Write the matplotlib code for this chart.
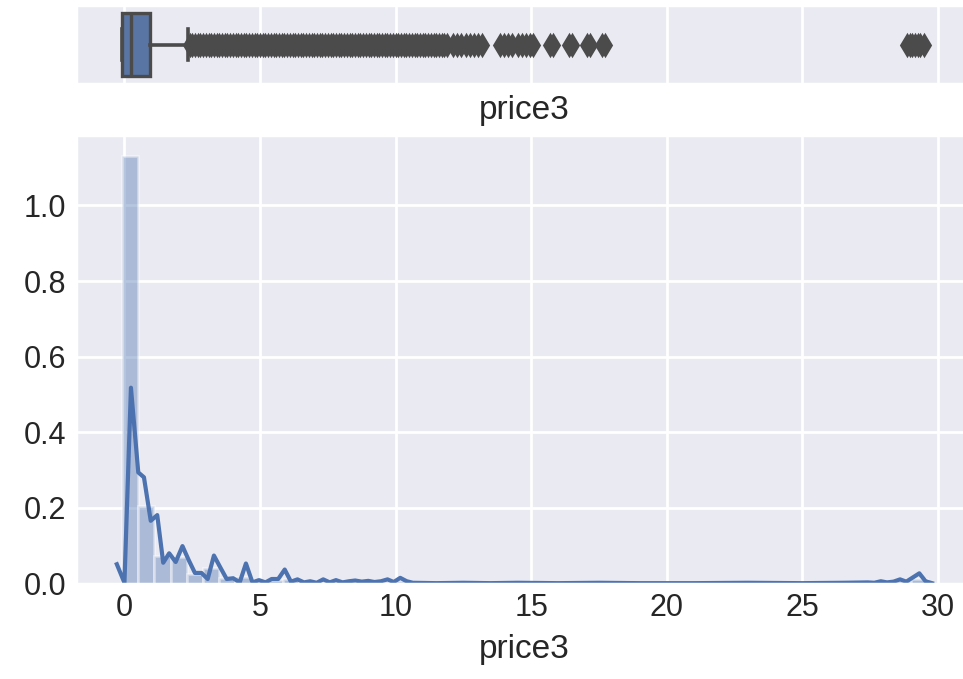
import matplotlib

matplotlib.use("Agg")
import matplotlib.pyplot as plt
import numpy as np

BLUE = "#4C72B0"
BOX_FACE = "#5975A4"
LINE_GRAY = "#4b4b4b"
TEXT_GRAY = "#262626"

# box summary for price3
box_q1 = -0.08
box_med = 0.25
box_q3 = 0.93
whisker_lo = -0.08
whisker_hi = 2.36
fliers = [
    2.42, 2.5, 2.6, 2.7, 2.8, 2.9, 3.0, 3.1, 3.2, 3.3, 3.4, 3.5, 3.6, 3.7,
    3.8, 3.9, 4.0, 4.1, 4.2, 4.3, 4.4, 4.5, 4.6, 4.7, 4.8, 4.9, 5.0, 5.1,
    5.2, 5.3, 5.4, 5.5, 5.6, 5.7, 5.8, 5.9, 6.0, 6.1, 6.2, 6.3, 6.4, 6.5,
    6.6, 6.7, 6.8, 6.9, 7.0, 7.1, 7.2, 7.3, 7.4, 7.5, 7.6, 7.7, 7.8, 7.9,
    8.0, 8.1, 8.2, 8.3, 8.4, 8.5, 8.6, 8.7, 8.8, 8.9, 9.0, 9.1, 9.2, 9.3,
    9.4, 9.5, 9.6, 9.7, 9.8, 9.9, 10.0, 10.1, 10.2, 10.3, 10.4, 10.5, 10.6,
    10.7, 10.8, 10.9, 11.0, 11.1, 11.2, 11.3, 11.4, 11.5, 11.6, 11.7, 11.8,
    11.9,
    12.1, 12.25, 12.4, 12.6, 12.75, 12.9, 13.05, 13.2,
    13.85, 14.0, 14.15, 14.3, 14.5, 14.65, 14.8, 14.95, 15.05,
    15.7, 15.82, 16.38, 16.5, 17.05, 17.17, 17.6, 17.72,
    28.85, 28.95, 29.05, 29.15, 29.25, 29.35, 29.5,
]

# histogram (density) of price3, 50 equal bins
hist_start = -0.08
hist_stop = 29.58
hist_heights = [
    1.13, 0.206, 0.073, 0.071, 0.026, 0.042, 0.014, 0.018, 0.006, 0.010,
    0.012, 0.004, 0.005, 0.005, 0.004, 0.005, 0.005, 0.007, 0.002, 0.002,
    0.001, 0.002, 0.001, 0.001, 0.002, 0.001, 0.001, 0.001, 0.002, 0.001,
    0.001, 0.001, 0.001, 0.002, 0.001, 0.001, 0.001, 0.001, 0.001, 0.002,
    0.001, 0.001, 0.001, 0.001, 0.002, 0.002, 0.002, 0.004, 0.008, 0.013,
]

# kernel density estimate of price3
kde_x = [
    -0.28, 0.00, 0.24, 0.51, 0.72, 0.97, 1.21, 1.43, 1.65, 1.89, 2.14, 2.37,
    2.60, 2.84, 3.07, 3.30, 3.54, 3.77, 4.01, 4.25, 4.48, 4.72, 4.96, 5.20,
    5.43, 5.67, 5.91, 6.14, 6.38, 6.62, 6.85, 7.09, 7.33, 7.57, 7.80, 8.04,
    8.28, 8.51, 8.75, 8.99, 9.22, 9.46, 9.70, 9.93, 10.17, 10.41, 10.64,
    11.5, 12.5, 13.5, 14.5, 16.0, 17.5, 19.0, 21.0, 23.0, 25.0, 26.5,
    27.41, 27.65, 27.89, 28.12, 28.36, 28.60, 28.83, 29.07, 29.31, 29.54,
    29.78,
]
kde_y = [
    0.051, 0.002, 0.518, 0.294, 0.281, 0.166, 0.181, 0.055, 0.080, 0.057,
    0.099, 0.062, 0.028, 0.028, 0.012, 0.074, 0.042, 0.012, 0.014, 0.003,
    0.053, 0.003, 0.009, 0.003, 0.012, 0.012, 0.037, 0.005, 0.011, 0.003,
    0.006, 0.002, 0.011, 0.003, 0.009, 0.003, 0.006, 0.008, 0.005, 0.007,
    0.004, 0.006, 0.011, 0.004, 0.015, 0.006, 0.002,
    0.001, 0.002, 0.001, 0.002, 0.001, 0.002, 0.001, 0.001, 0.002, 0.001,
    0.002,
    0.003, 0.002, 0.006, 0.003, 0.005, 0.011, 0.005, 0.016, 0.027, 0.006,
    0.001,
]

plt.rcParams.update({
    "font.family": ["Liberation Sans", "DejaVu Sans"],
    "axes.facecolor": "#EAEAF2",
    "axes.edgecolor": "white",
    "axes.linewidth": 1.25,
    "axes.grid": True,
    "axes.axisbelow": True,
    "grid.color": "white",
    "grid.linewidth": 1.0,
    "axes.labelsize": 12,
    "axes.labelcolor": TEXT_GRAY,
    "xtick.labelsize": 11,
    "ytick.labelsize": 11,
    "xtick.color": TEXT_GRAY,
    "ytick.color": TEXT_GRAY,
    "xtick.major.size": 0,
    "ytick.major.size": 0,
    "xtick.major.pad": 3.5,
    "ytick.major.pad": 3.5,
})

fig = plt.figure(figsize=(4.815, 3.395), dpi=200)
ax_hist = fig.add_axes([0.079, 0.1406, 0.9312, 0.6606])
ax_box = fig.add_axes([0.079, 0.8763, 0.9312, 0.1163], sharex=ax_hist)

stats = [{
    "med": box_med, "q1": box_q1, "q3": box_q3,
    "whislo": whisker_lo, "whishi": whisker_hi, "fliers": fliers,
}]
ax_box.bxp(
    stats, positions=[0], widths=0.8, orientation="horizontal",
    patch_artist=True, manage_ticks=False,
    boxprops=dict(facecolor=BOX_FACE, edgecolor=LINE_GRAY, linewidth=1.2),
    whiskerprops=dict(color=LINE_GRAY, linewidth=1.3),
    capprops=dict(color=LINE_GRAY, linewidth=1.3),
    medianprops=dict(color=LINE_GRAY, linewidth=1.2),
    flierprops=dict(marker="d", markersize=5.3, markerfacecolor=LINE_GRAY,
                    markeredgecolor=LINE_GRAY, markeredgewidth=1.0,
                    linestyle="none"),
)
ax_box.set_ylim(0.5, -0.5)
ax_box.set_yticks([])
ax_box.tick_params(labelbottom=False)
ax_box.set_xlabel("price3")

edges = np.linspace(hist_start, hist_stop, len(hist_heights) + 1)
ax_hist.bar(edges[:-1], hist_heights, width=np.diff(edges), align="edge",
            color=BLUE, alpha=0.4, edgecolor="white", linewidth=1.0)
ax_hist.plot(kde_x, kde_y, color=BLUE, linewidth=1.5)
ax_hist.set_xlabel("price3")

fig.savefig("out.png", dpi=200)
